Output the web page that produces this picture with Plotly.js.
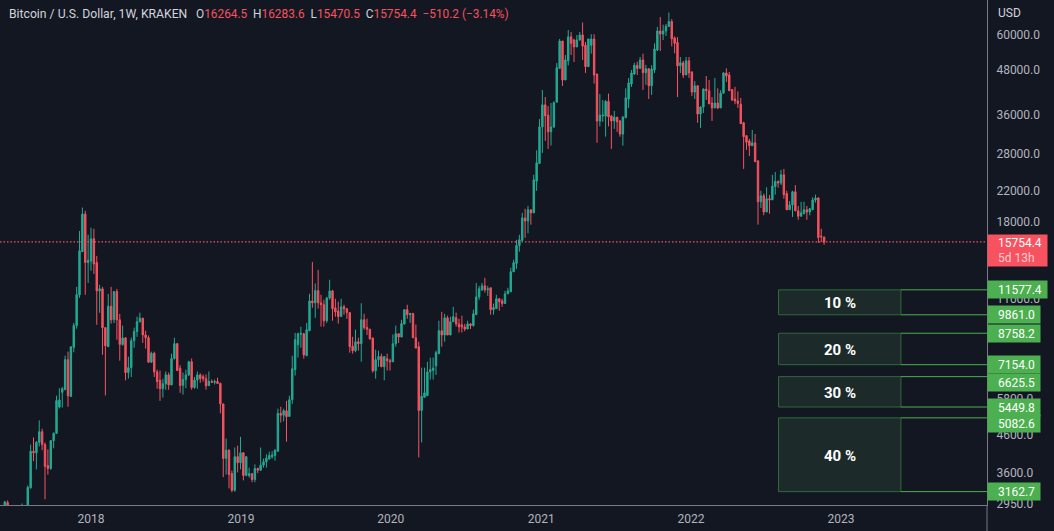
<!DOCTYPE html>
<html><head><meta charset="utf-8">
<script src="https://cdn.plot.ly/plotly-3.0.1.min.js"></script>
<style>html,body{margin:0;padding:0;background:#131722;overflow:hidden}#c{width:1054px;height:531px}</style>
</head><body><div id="c"></div>
<script>
const firstWeek = '2017-06-05';
const opens = [
2500,2950,2500,2500,2500,2450,1950,2750,2860,3240,
4100,4060,4340,4650,4280,3740,3670,4390,4600,5450,
5990,6090,7390,5830,8000,9200,11200,14800,18850,13800,
13930,16080,13800,11500,11650,9080,8030,10420,9550,11450,
9550,8150,8500,6800,7020,8350,8850,9430,9650,8660,
8510,7270,7700,6830,6470,6130,6330,6700,6280,7440,
8190,6990,6260,6500,6700,7290,6180,6480,6700,6620,
6540,6250,6420,6390,6420,6340,5560,3915,4130,3550,
3190,3960,3810,4060,3510,3510,3550,3420,3670,3630,
3750,3830,3900,3960,3990,4100,5230,5170,5320,5130,
5710,6930,8130,8700,8730,7580,8900,10780,10650,11520,
10650,10520,9490,10990,11500,10300,10100,9750,10380,10250,
10000,8050,7830,8290,8190,9550,9090,8990,8500,6880,
7390,7540,7060,7430,7340,7290,8190,8730,8550,9300,
10190,9870,9950,8510,8030,5330,5800,5860,6830,6900,
7100,7680,8900,8660,9670,8660,9430,9680,9300,9240,
9120,9000,9300,9200,9870,11060,11580,11880,11580,11730,
10190,10260,10930,10780,10600,11280,11430,13000,13720,15400,
15900,18390,18030,19370,18990,23300,26100,33000,38040,35600,
32000,33000,38700,48100,57340,44650,50500,58900,57730,55200,
57730,59600,55800,48640,55800,58100,46400,34300,35400,35400,
38900,35400,34300,35150,34300,31540,35000,39500,43500,46400,
49050,48100,50770,46800,48000,43000,47600,54130,61170,60000,
61170,63000,65000,58500,56800,48900,49840,46100,50500,47000,
41300,43000,35870,37500,42100,41650,38500,37300,38500,37300,
41000,46700,46100,42000,39500,39000,38200,33900,31200,30170,
29250,29800,26500,20400,21200,19100,20800,20650,22500,23250,
23000,24260,21500,19370,20000,21750,19240,18580,18880,19370,
19100,19370,20650,20900,16350,16264.5];
const highs = [
2980,2990,2760,2600,2650,2550,2930,2880,3290,4280,
4480,4380,5000,4740,4340,4150,4400,4630,5860,6150,
6200,7580,7780,8030,9360,11800,16900,19650,19250,16500,
17270,17150,14400,11960,11800,9080,11280,11800,11450,11650,
9920,9200,8540,7530,8510,9080,9740,10000,9650,8900,
8630,7780,7780,6930,6890,6540,6850,6800,7680,8510,
8230,7130,6800,6930,7340,7440,6610,6850,6770,6720,
6720,6850,6500,6500,6580,6380,5560,4450,4150,3620,
4200,4250,4500,4080,3970,3690,3560,3770,3690,4200,
3910,4020,4090,4100,4150,5390,5460,5390,5670,5860,
7580,8780,8790,9130,8780,9360,11280,13860,12070,13170,
11220,10860,11060,12350,11580,10930,10730,10930,10520,10300,
10000,8560,8960,8510,10620,9920,9620,8990,8500,7880,
7830,7680,7540,7680,7430,8690,9200,8750,9550,10190,
10520,9950,9970,9260,8290,7020,7020,7290,7490,7490,
7830,9490,10050,9920,9800,9740,10380,10000,9610,9800,
9300,9490,9350,10190,12100,11880,12100,12510,11880,11730,
10600,11220,10990,10930,11500,11730,13340,14050,15970,16500,
18990,19500,19860,19370,24260,28400,34730,41870,40000,37720,
38500,38900,49780,58130,57340,52400,61560,60800,58130,59600,
60800,64600,57000,58100,59900,59900,46400,40800,39260,39260,
40900,35600,36600,35150,34500,35400,42300,45200,47610,49840,
50200,51750,52860,49200,48000,49050,56500,62800,66900,63700,
64000,68900,66000,59100,58800,51750,50500,51750,51750,47200,
44350,43200,37700,42300,45800,44650,40000,45230,42300,41800,
46900,48100,47000,42000,42700,41500,39780,34100,31200,30570,
32380,31540,26700,21900,21500,22400,21300,24260,24700,23400,
25040,25200,21900,20500,21900,22700,19860,20400,20400,19860,
19600,21000,21350,21000,17150,16283.6];
const lows = [
2480,2450,2300,2350,2400,1850,1900,2600,2800,3225,
3850,3650,4230,4130,3010,3530,3640,4180,4580,5400,
5430,6090,5460,5830,7750,9020,11000,14800,11220,12100,
13090,12830,9250,9990,7630,5870,8030,9320,9350,8400,
7340,8080,6470,6540,6610,7980,8560,9380,8230,7930,
7240,7240,6610,6130,5670,5790,6090,6090,6280,7400,
6890,5970,5900,6150,6650,6090,6130,6130,6370,6420,
6090,6250,6370,6300,6340,5230,3470,3530,3230,3150,
3160,3580,3650,3400,3490,3460,3360,3360,3560,3620,
3690,3690,3890,3910,3860,4090,4930,4970,4360,5120,
5560,6670,7490,7980,7440,7560,8900,10320,9670,10260,
9140,9140,9360,10860,9490,9740,9320,9750,9870,9610,
7730,7680,7750,7830,7290,8960,8660,8400,6800,6540,
7060,7060,6470,6890,6890,7290,8030,8230,8530,9250,
9610,9360,8510,7960,3940,4340,5800,5860,6500,6500,
6700,7680,8030,8290,8660,8660,9430,9140,8800,8800,
8870,9000,9000,9140,9870,10860,11500,11380,11140,9870,
9870,10260,10120,10380,10600,11280,11430,13000,13250,14800,
15900,16180,16650,17600,18990,21880,26100,27930,30170,28660,
29300,32800,38700,48100,42960,44650,49040,52400,50100,55200,
57500,50770,46700,48640,52860,43600,29800,33120,34100,31000,
33120,28660,32590,31960,30990,29250,35000,37300,42700,46100,
46100,47900,41870,43300,39500,40550,46700,53800,53800,57730,
59250,62800,55420,53000,40000,46700,45230,46100,45230,40250,
39500,33900,32800,36100,39260,38300,34300,37300,37000,37300,
41000,44100,41650,39000,38200,37300,33700,25200,28480,27380,
29250,26400,17600,19600,18700,19100,18880,20650,21350,22330,
22700,20800,19370,19370,18500,19240,18160,18580,18880,18160,
18700,19370,20300,15650,15750,15470.5];
const closes = [
2960,2500,2500,2500,2450,1950,2750,2860,3250,4100,
4060,4340,4650,4280,3720,3670,4390,4600,5680,5700,
6130,7390,5860,8030,9200,11220,14880,18850,13800,14000,
16080,13680,11500,11650,9080,8080,10420,9550,11450,9550,
8150,8500,6800,7020,8350,8860,9430,9650,8660,8510,
7270,7700,6830,6420,6130,6330,6700,6280,7440,8190,
6890,6260,6500,6700,7290,6180,6480,6700,6540,6540,
6250,6420,6390,6420,6340,5560,3915,4130,3530,3190,
3960,3810,4060,3510,3960,3550,3420,3670,3630,3750,
3830,3920,3990,4000,4130,5230,5170,5320,5120,5710,
6970,8400,8730,8750,7620,8960,10780,10650,11520,10650,
10520,9490,10990,11500,10260,10050,9750,10380,10250,10000,
8030,7830,8290,8190,9550,9080,8990,8450,6880,7390,
7540,7060,7540,7340,7290,8190,8730,8550,9320,10190,
9870,9950,8510,7960,5330,5840,5970,6830,6930,7000,
7730,8900,8660,9670,8660,9430,9740,9300,9120,9120,
9000,9300,9200,9920,11060,11650,11880,11580,11650,10190,
10330,10930,10730,10600,11280,11500,13000,13790,15400,15970,
18390,18030,19370,18990,23480,26200,33000,38040,35430,31990,
33000,38560,48300,57340,44650,50770,58900,56500,55200,57730,
59600,55500,48640,58100,58100,46100,34300,35600,35600,38900,
35200,34300,35150,34100,31540,35150,39780,43800,46700,49050,
48100,50770,46800,48000,43000,47900,54480,61170,60000,61170,
63100,65000,58150,56500,48900,49840,46100,50500,46700,41300,
43000,35870,37500,42100,41650,38300,37300,38500,37300,41000,
46700,45800,41650,39260,39000,38400,33700,31000,29900,29250,
29800,26400,20400,21200,19100,20800,20650,22550,23250,23000,
24260,21350,19370,20000,21750,19240,18580,18990,19370,19100,
19500,20650,20900,16200,16280,15754.4];

const priceTicks = [60000,48000,36000,28000,22000,18000,11000,7400,5800,4600,3600,2950];
const yearTicks = ['2018-01-01','2019-01-01','2020-01-01','2021-01-01','2022-01-01','2023-01-01'];
const yearLabels = ['2018','2019','2020','2021','2022','2023'];
const zoneTops = [11577.4,8758.2,6625.5,5082.6];
const zoneBottoms = [9861.0,7154.0,5449.8,3162.7];
const zoneLabels = ['10 %','20 %','30 %','40 %'];
const zoneTopLabelNudge = [0,0,-5.5,-6];
const zoneStart = '2022-08-02', zoneEnd = '2023-05-27', zoneMid = '2022-12-30';
const lastPrice = 15754.4, countdown = '5d 13h';
const timeRange = ['2017-05-24 10:00','2023-12-22 14:00'];
const logRange = [3.4627,4.8731];

const TEAL='#22ab94', RED='#f7525f', GREEN='#4caf50', BG='#131722', AXIS='#787b86';
const FONT='Roboto, sans-serif';
const PAD='\u00a0\u00a0\u00a0';

const weeks = opens.map((_,i)=>{const d=new Date(firstWeek+'T00:00:00Z');d.setUTCDate(d.getUTCDate()+7*i);return d.toISOString().slice(0,10);});

const trace = {type:'candlestick',x:weeks,open:opens,high:highs,low:lows,close:closes,
  increasing:{line:{color:TEAL,width:1},fillcolor:TEAL},
  decreasing:{line:{color:RED,width:1},fillcolor:RED},
  width:7*864e5*0.72, whiskerwidth:0, hoverinfo:'skip', showlegend:false};

const shapes=[], annotations=[];
const fmt=v=>v.toFixed(1);
shapes.push({type:'line',xref:'paper',x0:0,x1:1,yref:'y',y0:lastPrice,y1:lastPrice,line:{color:RED,width:1.2,dash:'1.5px,2px'},layer:'above'});
zoneTops.forEach((t,i)=>{
  const b=zoneBottoms[i];
  shapes.push({type:'rect',xref:'x',yref:'y',x0:zoneStart,x1:zoneEnd,y0:b,y1:t,fillcolor:'#1c2b29',line:{color:'#2f6b38',width:1},layer:'above'});
  [t,b].forEach(v=>shapes.push({type:'line',xref:'x',yref:'y',x0:zoneEnd,x1:timeRange[1],y0:v,y1:v,line:{color:GREEN,width:1},layer:'above'}));
  annotations.push({xref:'x',yref:'y',x:zoneMid,y:(Math.log10(t)+Math.log10(b))/2,yshift:-1,text:'<b>'+zoneLabels[i]+'</b>',showarrow:false,font:{family:FONT,size:15,color:'#ffffff'}});
});
shapes.push({type:'line',xref:'paper',yref:'paper',x0:1,x1:1,y0:-0.06,y1:0,line:{color:AXIS,width:1},layer:'above'});
const tag=(v,w,ys)=>annotations.push({xref:'paper',yref:'y',x:1,y:Math.log10(v),xanchor:'left',yanchor:'middle',yshift:ys||0,width:w,height:15,borderpad:1,align:'left',bgcolor:GREEN,
  text:PAD+fmt(v),showarrow:false,font:{family:FONT,size:12,color:'#ffffff'}});
zoneTops.forEach((t,i)=>{tag(t,t>=10000?57:50,zoneTopLabelNudge[i]);tag(zoneBottoms[i],50,0);});
annotations.push({xref:'paper',yref:'y',x:1,y:Math.log10(lastPrice),xanchor:'left',yanchor:'top',yshift:8,width:57,height:29,borderpad:1,align:'left',bgcolor:RED,showarrow:false,
  text:PAD+fmt(lastPrice)+'<br><span style="color:rgba(255,255,255,0.72)">'+PAD+countdown+'</span>',font:{family:FONT,size:12,color:'#ffffff'}});
const hdrVal=s=>'<span style="color:'+RED+'">'+s+'</span>';
const L=opens.length-1;
const GAP='\u00a0\u00a0';
annotations.push({xref:'paper',yref:'paper',x:7/987,y:1-14/505,xanchor:'left',yanchor:'middle',showarrow:false,align:'left',
  font:{family:FONT,size:12.2,color:'#d1d4dc'},text:'Bitcoin / U.S. Dollar, 1W, KRAKEN'});
annotations.push({xref:'paper',yref:'paper',x:193.5/987,y:1-14/505,xanchor:'left',yanchor:'middle',showarrow:false,align:'left',
  font:{family:FONT,size:11.85,color:'#d1d4dc'},
  text:'O'+hdrVal(fmt(opens[L]))+GAP+'H'+hdrVal(fmt(highs[L]))+GAP+'L'+hdrVal(fmt(lows[L]))+GAP+'C'+hdrVal(fmt(closes[L]))+GAP+hdrVal('−510.2 (−3.14%)')});
annotations.push({xref:'paper',yref:'paper',x:1,y:1-13/505,xanchor:'left',yanchor:'middle',xshift:8.5,showarrow:false,text:'USD',font:{family:FONT,size:12,color:'#d1d4dc'}});

const layout={width:1054,height:531,margin:{l:0,r:67,t:0,b:26,pad:0},paper_bgcolor:BG,plot_bgcolor:BG,showlegend:false,
  xaxis:{type:'date',range:timeRange,rangeslider:{visible:false},showgrid:false,zeroline:false,showline:true,linecolor:AXIS,linewidth:1,
    tickmode:'array',tickvals:yearTicks,ticktext:yearLabels,ticks:'outside',ticklen:3,tickcolor:BG,tickangle:0,tickfont:{family:FONT,size:12,color:'#b2b5be'}},
  yaxis:{type:'log',side:'right',range:logRange,showgrid:false,zeroline:false,showline:true,linecolor:AXIS,linewidth:1,
    tickmode:'array',tickvals:priceTicks,ticktext:priceTicks.map(fmt),ticks:'outside',ticklen:6,tickcolor:BG,tickwidth:1,ticklabelshift:1,tickfont:{family:FONT,size:12,color:'#b2b5be'}},
  shapes,annotations,hovermode:false,dragmode:false};
Plotly.newPlot('c',[trace],layout,{displayModeBar:false,staticPlot:true});
</script></body></html>
